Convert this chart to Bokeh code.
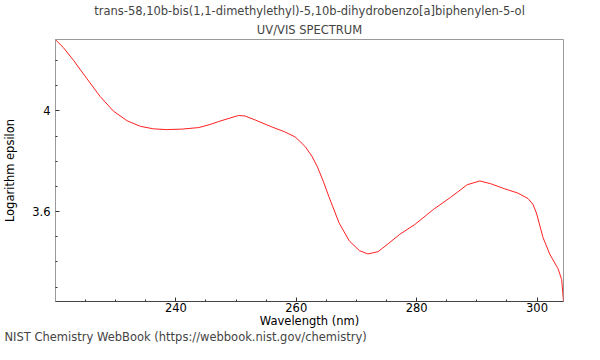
from bokeh.plotting import figure
from bokeh.models import Title, FixedTicker, Range1d
from bokeh.embed import file_html
from bokeh.resources import INLINE

wavelength = [220, 221.3, 223.0, 225.2, 227.4, 229.6, 231.9, 234.1, 236.3, 238.5, 241,
              243.8, 245.5, 247.1, 249, 250.4, 251.5, 253.2, 256, 258, 259.8, 260.4,
              261.5, 262.6, 263.5, 264.5, 265.4, 267.1, 268.8, 270.5, 271.9, 273.6,
              275.2, 277.2, 279.7, 282.8, 285.6, 288.4, 290.5, 292.3, 294.6, 296.8,
              298.5, 299.3, 299.9, 301.0, 302.1, 303.5, 304.1, 304.4]
log_eps = [4.283, 4.252, 4.201, 4.129, 4.058, 4.0, 3.961, 3.939, 3.929, 3.926, 3.928,
           3.934, 3.945, 3.958, 3.972, 3.982, 3.980, 3.964, 3.936, 3.918, 3.897, 3.884,
           3.858, 3.82, 3.779, 3.72, 3.661, 3.556, 3.484, 3.445, 3.432, 3.441,
           3.471, 3.51, 3.549, 3.609, 3.656, 3.707, 3.722, 3.711, 3.691, 3.674,
           3.652, 3.63, 3.595, 3.497, 3.432, 3.373, 3.33, 3.243]

x_major = [240, 260, 280, 300]
x_minor = [220, 225, 230, 235, 245, 250, 255, 265, 270, 275, 285, 290, 295]
y_major = [3.6, 4.0]
y_minor = [3.3, 3.4, 3.5, 3.7, 3.8, 3.9, 4.1, 4.2]

title1 = "trans-58,10b-bis(1,1-dimethylethyl)-5,10b-dihydrobenzo[a]biphenylen-5-ol"
title2 = "UV/VIS SPECTRUM"
footer = "NIST Chemistry WebBook (https://webbook.nist.gov/chemistry)"

FONT = "DejaVu Sans"
FS = "11.5px"

p = figure(width=584, height=344, output_backend="svg", toolbar_location=None,
           x_range=Range1d(220, 304.4), y_range=Range1d(3.243, 4.284),
           min_border_left=51, min_border_right=21, min_border_top=38, min_border_bottom=43,
           title=None)

p.line(wavelength, log_eps, line_color="#ff2020", line_width=1)

p.xgrid.visible = False
p.ygrid.visible = False
p.outline_line_color = "#999999"
p.outline_line_width = 1
p.background_fill_color = "white"
p.border_fill_color = "white"

xa = p.xaxis[0]
xa.ticker = FixedTicker(ticks=x_major, minor_ticks=x_minor)
xa.axis_label = "Wavelength (nm)"
ya = p.yaxis[0]
ya.ticker = FixedTicker(ticks=y_major, minor_ticks=y_minor)
ya.axis_label = "Logarithm epsilon"
ya.major_label_overrides = {4: "4", 3.6: "3.6"}

for ax in (xa, ya):
    ax.major_tick_in = 4
    ax.major_tick_out = 0
    ax.minor_tick_in = 2
    ax.minor_tick_out = 0
    ax.major_tick_line_color = "#333333"
    ax.minor_tick_line_color = "#333333"
    ax.major_label_text_font = FONT
    ax.major_label_text_font_size = FS
    ax.major_label_text_color = "black"
    ax.axis_label_text_font = FONT
    ax.axis_label_text_font_size = FS
    ax.axis_label_text_font_style = "normal"
    ax.axis_label_text_color = "black"
xa.axis_line_color = "#444444"
ya.axis_line_color = "#999999"
xa.major_label_text_line_height = 1.0
xa.axis_label_text_line_height = 1.0
xa.major_label_standoff = 1
xa.axis_label_standoff = -1
ya.major_label_standoff = 5
ya.axis_label_standoff = 12

t2 = Title(text=title2, align="center", text_font=FONT, text_font_size=FS,
           text_font_style="normal", standoff=5)
t1 = Title(text=title1, align="center", text_font=FONT, text_font_size=FS,
           text_font_style="normal", standoff=2)
p.add_layout(t2, "above")
p.add_layout(t1, "above")

tf = Title(text=footer, align="left", text_font=FONT, text_font_size=FS,
           text_font_style="normal", offset=-51, standoff=-5, text_line_height=1.0)
p.add_layout(tf, "below")

open("out.html", "w").write(file_html(p, INLINE))
